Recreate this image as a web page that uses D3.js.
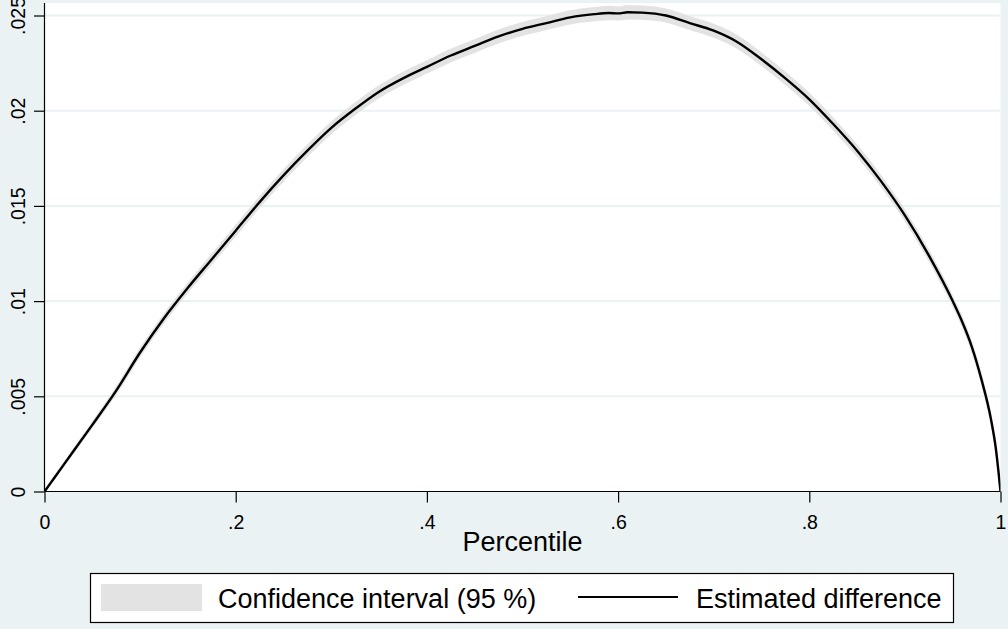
<!DOCTYPE html>
<html>
<head>
<meta charset="utf-8">
<script src="https://cdn.jsdelivr.net/npm/d3@7"></script>
<style>
  html, body { margin: 0; padding: 0; background: #eaf2f3; }
  svg { display: block; font-family: "Liberation Sans", Arial, Helvetica, sans-serif; }
</style>
</head>
<body>
<svg id="chart" width="1008" height="629"></svg>
<script>
// Percentile grid
const percentile = [0, .02, .05, .075, .1, .125, .15, .175, .2, .225, .25, .275, .3, .325, .35, .375,
  .4, .425, .45, .475, .5, .525, .55, .575, .59, .6, .61, .625, .65, .675, .7, .725, .75, .775,
  .8, .825, .85, .875, .9, .925, .95, .96, .97, .98, .99, .995, 1];

// Estimated difference at each percentile
const estimate = [0, .0014, .0035, .0053, .0073, .0091, .0107, .0122, .0137, .0152, .0166, .0179, .0191,
  .0201, .0210, .0217, .0223, .0229, .0234, .0239, .0243, .0246, .0249, .02507, .02513, .02511, .02517,
  .02515, .0250, .0246, .0242, .0236, .0227, .0217, .0206, .0193, .0179, .0163, .0145, .0124, .0100,
  .0089, .0076, .0059, .0038, .0023, 0];

// 95 % confidence bounds
const ciLow = [0, .00136, .00342, .00519, .00716, .00894, .01052, .0120, .01349, .01498, .01637, .01766,
  .01885, .01984, .02073, .02142, .02202, .02261, .02311, .0236, .0240, .0243, .02459, .02476, .02482,
  .0248, .02486, .02484, .02469, .0243, .0239, .02331, .02242, .02143, .02034, .01905, .01766, .01608,
  .0143, .01222, .00984, .00875, .00747, .00579, .00372, .00224, 0];
const ciHigh = [0, .00144, .00358, .00541, .00744, .00926, .01088, .0124, .01391, .01542, .01683, .01814,
  .01935, .02036, .02127, .02198, .02258, .02319, .02369, .0242, .0246, .0249, .02521, .02538, .02544,
  .02542, .02548, .02546, .02531, .0249, .0245, .02389, .02298, .02197, .02086, .01955, .01814, .01652,
  .0147, .01258, .01016, .00905, .00773, .00601, .00388, .00236, 0];

// Axis ticks and labels
const xTicks = [0, .2, .4, .6, .8, 1];
const xTickLabels = ["0", ".2", ".4", ".6", ".8", "1"];
const yTicks = [0, .005, .01, .015, .02, .025];
const yTickLabels = ["0", ".005", ".01", ".015", ".02", ".025"];
const xTitle = "Percentile";
const legendLabels = ["Confidence interval (95 %)", "Estimated difference"];

const bg = "#eaf2f3";
const bandColor = "#e3e3e3";

const svg = d3.select("#chart");
const W = 1008, H = 629;
const plotLeft = 44.5, plotRight = 1000.5, plotTop = 3, plotBottom = 491.5;

svg.append("rect").attr("width", W).attr("height", H).attr("fill", bg);

const x = d3.scaleLinear().domain([0, 1]).range([plotLeft, plotRight]);
const y = d3.scaleLinear().domain([0, .025]).range([plotBottom, 15.5]);

// plot region
svg.append("rect")
  .attr("x", plotLeft).attr("y", plotTop)
  .attr("width", plotRight - plotLeft).attr("height", plotBottom - plotTop)
  .attr("fill", "#ffffff");

svg.append("clipPath").attr("id", "plotClip")
  .append("rect")
  .attr("x", plotLeft).attr("y", plotTop)
  .attr("width", plotRight - plotLeft).attr("height", plotBottom - plotTop);

// horizontal grid lines
svg.append("g").selectAll("line")
  .data(yTicks.filter(d => d > 0))
  .join("line")
  .attr("x1", plotLeft).attr("x2", plotRight)
  .attr("y1", d => y(d)).attr("y2", d => y(d))
  .attr("stroke", bg).attr("stroke-width", 2);

const rows = percentile.map((p, i) => ({ p, est: estimate[i], lo: ciLow[i], hi: ciHigh[i] }));

const plot = svg.append("g").attr("clip-path", "url(#plotClip)");

// confidence band
plot.append("path")
  .datum(rows)
  .attr("fill", bandColor)
  .attr("stroke", bandColor)
  .attr("stroke-width", 2.5)
  .attr("stroke-linejoin", "round")
  .attr("d", d3.area()
    .x(d => x(d.p))
    .y0(d => y(d.lo))
    .y1(d => y(d.hi))
    .curve(d3.curveMonotoneX));

// estimated difference
plot.append("path")
  .datum(rows)
  .attr("fill", "none")
  .attr("stroke", "#000")
  .attr("stroke-width", 2.4)
  .attr("stroke-linejoin", "round")
  .attr("d", d3.line()
    .x(d => x(d.p))
    .y(d => y(d.est))
    .curve(d3.curveMonotoneX));

// y axis
const yAxis = d3.axisLeft(y)
  .tickValues(yTicks)
  .tickFormat((d, i) => yTickLabels[i])
  .tickSize(10.5)
  .tickSizeOuter(0);
const gy = svg.append("g").attr("transform", `translate(${plotLeft},0)`).call(yAxis);
gy.select(".domain").attr("d", `M0,${plotTop}V${plotBottom}`).attr("stroke", "#000").attr("stroke-width", 1.2);
gy.selectAll(".tick line").attr("stroke", "#000").attr("stroke-width", 1.2);
gy.selectAll(".tick text")
  .attr("font-size", 19.5)
  .attr("fill", "#000")
  .attr("text-anchor", "middle")
  .attr("dy", null)
  .attr("x", null)
  .attr("transform", "translate(-20,0) rotate(-90)");

// x axis
const xAxis = d3.axisBottom(x)
  .tickValues(xTicks)
  .tickFormat((d, i) => xTickLabels[i])
  .tickSize(11)
  .tickSizeOuter(0);
const gx = svg.append("g").attr("transform", `translate(0,${plotBottom})`).call(xAxis);
gx.select(".domain").attr("d", `M${plotLeft},0H${plotRight}`).attr("stroke", "#000").attr("stroke-width", 1.2);
gx.selectAll(".tick line").attr("stroke", "#000").attr("stroke-width", 1.2);
gx.selectAll(".tick text")
  .attr("font-size", 19.5)
  .attr("fill", "#000")
  .attr("dy", null)
  .attr("y", 37.5);

// x axis title
svg.append("text")
  .attr("x", (plotLeft + plotRight) / 2)
  .attr("y", 551)
  .attr("text-anchor", "middle")
  .attr("font-size", 27)
  .attr("fill", "#000")
  .text(xTitle);

// legend
const lg = svg.append("g");
lg.append("rect")
  .attr("x", 90.5).attr("y", 573.5)
  .attr("width", 863).attr("height", 49)
  .attr("fill", "#fff").attr("stroke", "#000").attr("stroke-width", 1.2);
lg.append("rect")
  .attr("x", 101).attr("y", 584)
  .attr("width", 101).attr("height", 27)
  .attr("fill", bandColor);
lg.append("text")
  .attr("x", 218).attr("y", 607.5)
  .attr("font-size", 27).attr("fill", "#000")
  .text(legendLabels[0]);
lg.append("line")
  .attr("x1", 578).attr("x2", 678)
  .attr("y1", 597).attr("y2", 597)
  .attr("stroke", "#000").attr("stroke-width", 2.2);
lg.append("text")
  .attr("x", 696).attr("y", 607.5)
  .attr("font-size", 27).attr("fill", "#000")
  .text(legendLabels[1]);
</script>
</body>
</html>
